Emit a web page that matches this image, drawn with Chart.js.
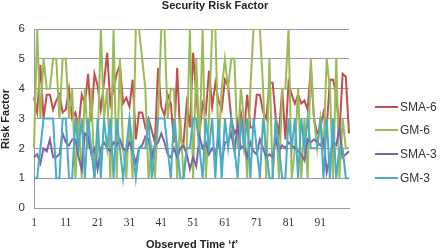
<!DOCTYPE html>
<html><head><meta charset="utf-8">
<script src="https://cdn.jsdelivr.net/npm/chart.js@4"></script>
<style>html,body{margin:0;padding:0;background:#fff}#wrap{width:444px;height:251px}</style>
</head><body><div id="wrap"><canvas id="c" width="444" height="251"></canvas></div>
<script>
const categories = Array.from({length:100},(_, i)=>String(i+1));
const tickLabels = ['1','11','21','31','41','51','61','71','81','91'];
const seriesNames = ['SMA-6','GM-6','SMA-3','GM-3'];
const sma6 = [3.7,3.2,4.8,3.0,3.8,3.8,3.3,3.6,3.8,3.2,3.3,4.0,3.0,3.2,2.7,3.8,3.5,4.5,2.9,4.5,
              4.1,3.3,4.2,5.2,3.5,4.0,4.5,4.8,3.5,3.7,3.4,4.3,2.3,3.2,3.2,2.7,3.0,2.6,2.2,4.7,
              3.4,3.1,3.8,3.5,2.2,4.7,2.3,2.2,3.5,2.7,5.2,3.8,2.5,3.5,3.2,4.6,3.4,4.2,3.6,3.3,
              4.3,4.1,3.0,2.5,2.7,3.2,2.5,3.8,2.7,2.7,3.8,3.8,3.2,3.0,4.2,4.2,3.0,2.5,4.0,2.3,
              4.2,3.8,3.5,3.8,3.5,3.6,3.3,4.7,3.0,2.5,2.7,3.2,2.7,4.3,4.3,3.8,2.5,4.5,4.4,2.5];
const gm6 = [2,6,3,5,4,4,5,5,3,5,5,3,4,1,3,1,4,2,4,1,
             2,6,3,4,1,6,1,5,2,1,3,1,6,6,5,4,1,2,1,3,
             6,6,3,4,4,1,3,1,2,6,1,5,2,6,1,3,6,6,2,4,
             5,4,5,5,2,4,3,1,4,6,6,6,4,1,5,1,3,1,4,4,
             6,1,2,4,1,3,1,5,3,2,3,2,5,4,1,5,1,3,2,2];
const sma3 = [1.7,1.8,1.5,2.0,1.9,2.3,1.7,1.7,1.8,2.5,2.2,2.1,2.3,2.3,1.7,1.3,2.5,2.4,1.8,2.0,
              1.3,2.0,2.2,2.0,1.9,2.2,2.1,2.3,2.0,1.9,2.2,1.9,1.5,2.0,2.1,2.4,2.3,1.7,2.1,2.2,
              2.5,2.2,1.8,1.7,2.0,1.7,2.0,2.1,1.8,1.3,1.7,1.4,2.4,2.0,2.2,1.8,2.0,1.8,2.3,1.5,
              2.2,2.2,2.5,1.9,2.8,2.0,2.1,1.7,2.2,1.9,1.8,2.3,2.0,1.7,1.8,1.7,2.3,1.9,2.1,2.0,
              2.2,2.1,2.0,1.9,1.8,1.6,2.3,2.2,2.3,2.2,2.1,2.3,1.2,1.7,2.2,2.1,2.7,1.7,1.8,1.9];
const gm3 = [1,1,2,3,3,3,3,1,1,3,3,1,1,3,2,3,1,3,2,1,
             3,1,3,2,3,1,3,2,1,2,3,2,1,2,2,2,3,1,2,3,
             3,3,2,1,3,2,1,1,2,2,3,3,2,1,3,2,3,1,3,1,
             3,2,3,2,1,3,2,3,1,3,2,1,3,2,1,1,3,2,1,1,
             3,2,3,1,3,2,3,2,2,2,3,1,3,1,3,1,2,2,1,1];
const yTicks = [0,1,2,3,4,5,6];

const colors = ['#C0504D','#9BBB59','#8064A2','#4BACC6'];
const allData = [sma6, gm6, sma3, gm3];

const overlay = {
  id:'overlay',
  afterDraw(chart){
    const ctx = chart.ctx;
    ctx.save();
    ctx.fillStyle = '#222';
    ctx.textBaseline = 'middle';
    ctx.textAlign = 'center';
    const fB = 'bold 11px "Liberation Sans", Arial, sans-serif';
    const fI = 'italic bold 11px "Liberation Sans", Arial, sans-serif';
    ctx.font = fB;
    ctx.fillText('Security Risk Factor', 215, 6);
    ctx.save();
    ctx.translate(6, 119);
    ctx.rotate(-Math.PI/2);
    ctx.fillText('Risk Factor', 0, 0);
    ctx.restore();
    const p1 = 'Observed Time \u2018', p2 = 't', p3 = '\u2019';
    ctx.font = fB; const w1 = ctx.measureText(p1).width, w3 = ctx.measureText(p3).width;
    ctx.font = fI; const w2 = ctx.measureText(p2).width;
    let x = 192 - (w1+w2+w3)/2;
    ctx.textAlign = 'left';
    ctx.font = fB; ctx.fillText(p1, x, 245); x += w1;
    ctx.font = fI; ctx.fillText(p2, x, 245); x += w2;
    ctx.font = fB; ctx.fillText(p3, x, 245);
    const rows = [107,130,154,178];
    ctx.font = '12px "Liberation Sans", Arial, sans-serif';
    seriesNames.forEach((n,i)=>{
      ctx.strokeStyle = colors[i]; ctx.lineWidth = 2;
      ctx.beginPath(); ctx.moveTo(375, rows[i]); ctx.lineTo(398, rows[i]); ctx.stroke();
      ctx.fillStyle = '#333';
      ctx.fillText(n, 400, rows[i]+0.5);
    });
    ctx.restore();
  }
};

new Chart(document.getElementById('c'), {
  type:'line',
  data:{
    labels: categories,
    datasets: seriesNames.map((n,i)=>({
      label:n, data: allData[i], borderColor: colors[i], backgroundColor: colors[i],
      borderWidth: 2, pointRadius: 0, tension: 0, fill:false, order: 4-i
    }))
  },
  options:{
    responsive:false, animation:false, devicePixelRatio:1,
    layout:{padding:{left:0, top:29, right:95, bottom:0}},
    plugins:{legend:{display:false}, title:{display:false}, tooltip:{enabled:false}},
    scales:{
      x:{
        offset:false,
        grid:{display:false, drawTicks:false},
        border:{display:true, color:'#999', width:1},
        afterFit(s){ s.height = 43; },
        ticks:{autoSkip:false, maxRotation:0, padding:8, color:'#333',
          font:{family:'"Liberation Serif", "DejaVu Serif", serif', size:11.5},
          callback(v, idx){ const l = categories[idx]; return tickLabels.includes(l) ? l : ''; }}
      },
      y:{
        min:0, max:6,
        afterFit(s){ s.width = 34; },
        afterBuildTicks(s){ s.ticks = yTicks.map(v=>({value:v})); },
        grid:{color:'#9a9a9a', lineWidth:1, drawTicks:false},
        border:{display:true, color:'#999', width:1},
        ticks:{padding:9, color:'#333', font:{family:'"Liberation Sans", Arial, sans-serif', size:11.5}}
      }
    }
  },
  plugins:[overlay]
});
</script></body></html>
